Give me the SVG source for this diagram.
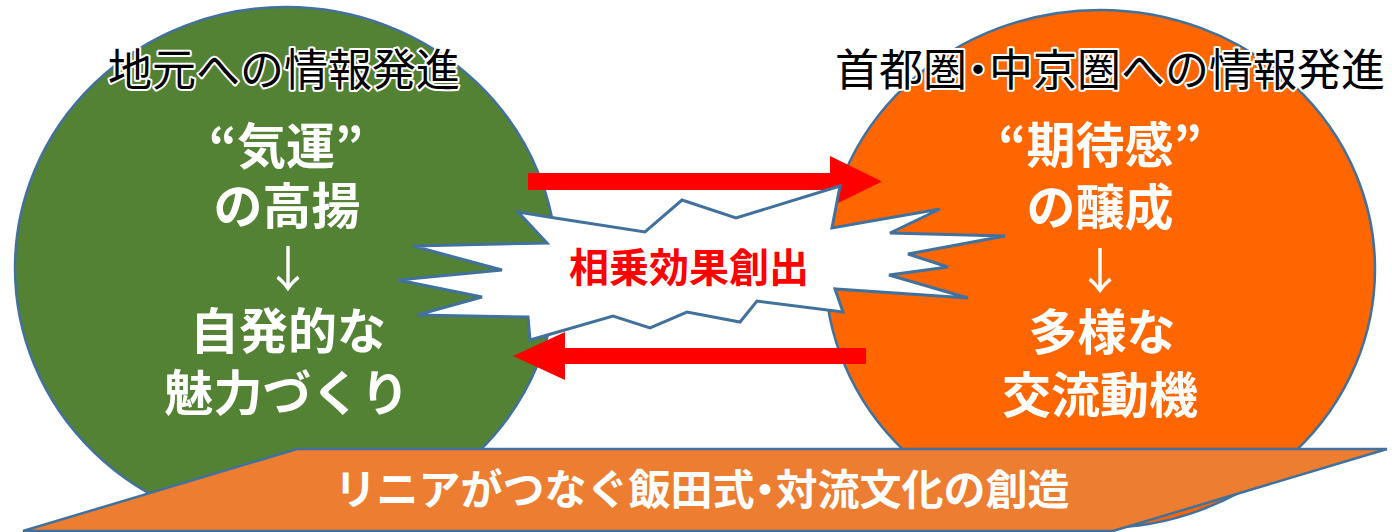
<svg xmlns="http://www.w3.org/2000/svg" width="1392" height="532" viewBox="0 0 1392 532">
<style>
.ol{stroke:#41719C;stroke-width:2.5}
.head{font-family:"Noto Sans CJK JP","Noto Sans",sans-serif;font-size:44px;fill:#000;stroke:#fff;stroke-width:4;paint-order:stroke;stroke-linejoin:round;text-anchor:middle}
.body{font-family:"Noto Sans CJK JP","Noto Sans",sans-serif;font-size:49px;font-weight:bold;fill:#fff;text-anchor:middle}
.thin{font-weight:normal}
.arrow{fill:#FF0000}
.p{font-feature-settings:"palt"}
</style>
<rect width="1392" height="532" fill="#fff"/>
<g id="left-circle">
<ellipse cx="286" cy="268" rx="271" ry="261" fill="#548235" class="ol"/>
</g>
<g id="right-circle">
<ellipse cx="1100" cy="269" rx="275" ry="259" fill="#FF6600" class="ol"/>
</g>
<g id="connectors">
<polygon class="arrow" points="528,173 830,173 830,156 882,181.5 830,207 830,190 528,190"/>
<polygon class="arrow" points="866,348 565,348 565,332 513,356 565,380 565,364 866,364"/>
</g>
<g id="synergy">
<polygon fill="#fff" stroke="#41719C" stroke-width="3" stroke-linejoin="miter" points="518,212 555,218 645,232 682,200 736,218 840,186 832,228 940,209 890,233 1005,236 908,254 948,267 889,275 968,298 835,289 843,312 757,301 740,322 687,312 650,328 613,316 530,340 528,317 417,315 482,297 398,280 502,270 413,246 547,243"/>
<text x="689" y="282" font-family="'Noto Sans CJK JP','Noto Sans',sans-serif" font-size="40" font-weight="bold" fill="#FF0000" text-anchor="middle">相乗効果創出</text>
</g>
<g id="left-text">
<text class="head" x="284" y="86">地元への情報発進</text>
<text class="body" x="286" y="164">“気運”</text>
<text class="body" x="287" y="224">の高揚</text>
<text class="body thin" x="288" y="287">↓</text>
<text class="body" x="288" y="349">自発的な</text>
<text class="body" x="287" y="411">魅力づくり</text>
</g>
<g id="right-text">
<text class="head" x="1110" y="86">首都圏<tspan class="p">・</tspan>中京圏への情報発進</text>
<text class="body" x="1100" y="163">“期待感”</text>
<text class="body" x="1100" y="225">の醸成</text>
<text class="body thin" x="1100" y="289">↓</text>
<text class="body" x="1102" y="350">多様な</text>
<text class="body" x="1100" y="413">交流動機</text>
</g>
<g id="banner">
<polygon points="297,449 1387,449 1113,531 23,531" fill="#ED7D31" class="ol"/>
<text x="702" y="505" font-family="'Noto Sans CJK JP','Noto Sans',sans-serif" font-size="42" font-weight="bold" fill="#fff" text-anchor="middle">リニアがつなぐ飯田式<tspan class="p">・</tspan>対流文化の創造</text>
</g>
</svg>
